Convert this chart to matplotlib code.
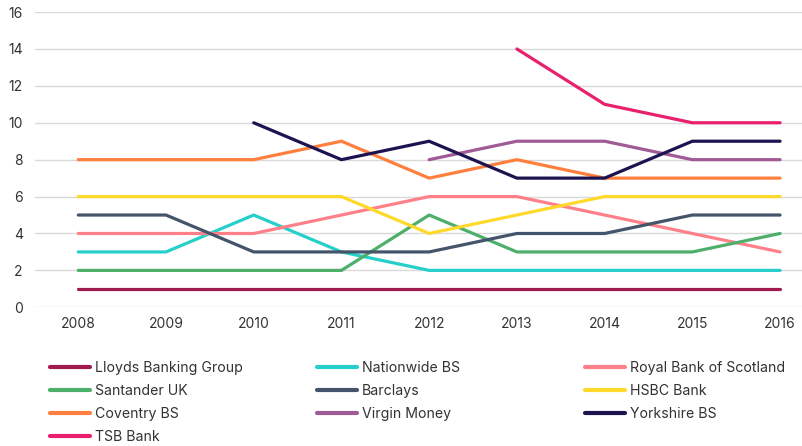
import numpy as np
import matplotlib.pyplot as plt
from matplotlib.lines import Line2D

plt.rcParams['font.family'] = ['Inter', 'DejaVu Sans']

years = [2008, 2009, 2010, 2011, 2012, 2013, 2014, 2015, 2016]
nan = np.nan

banks = ["Lloyds Banking Group", "Nationwide BS", "Royal Bank of Scotland",
         "Santander UK", "Barclays", "HSBC Bank",
         "Coventry BS", "Virgin Money", "Yorkshire BS", "TSB Bank"]

lloyds = [1, 1, 1, 1, 1, 1, 1, 1, 1]
nationwide = [3, 3, 5, 3, 2, 2, 2, 2, 2]
rbs = [4, 4, 4, 5, 6, 6, 5, 4, 3]
santander = [2, 2, 2, 2, 5, 3, 3, 3, 4]
barclays = [5, 5, 3, 3, 3, 4, 4, 5, 5]
hsbc = [6, 6, 6, 6, 4, 5, 6, 6, 6]
coventry = [8, 8, 8, 9, 7, 8, 7, 7, 7]
virgin = [nan, nan, nan, nan, 8, 9, 9, 8, 8]
yorkshire = [nan, nan, 10, 8, 9, 7, 7, 9, 9]
tsb = [nan, nan, nan, nan, nan, 14, 11, 10, 10]

series = [lloyds, nationwide, rbs, santander, barclays, hsbc,
          coventry, virgin, yorkshire, tsb]
colors = ["#a01a4f", "#26cfc9", "#ff8089", "#4daf6a", "#44546a", "#ffd92a",
          "#ff7f3f", "#a05a96", "#1c1450", "#e8206e"]

fig = plt.figure(figsize=(8.02, 4.46), dpi=100)
ax = fig.add_axes([0.044, 0.311, 0.956, 0.662])

for vals, c in zip(series, colors):
    ax.plot(years, vals, color=c, lw=2.3, solid_capstyle="round",
            solid_joinstyle="round")

ax.set_ylim(0, 16)
ax.set_yticks(range(0, 17, 2))
ax.set_xlim(2007.51, 2016.25)
ax.set_xticks(years)
ax.grid(axis="y", color="#d9d9d9", lw=1)
ax.set_axisbelow(True)
for s in ax.spines.values():
    s.set_visible(False)
ax.tick_params(length=0, labelsize=10, labelcolor="#333333")
ax.tick_params(axis="x", pad=7)
ax.tick_params(axis="y", pad=9)

# legend laid out row by row: one legend per column
cols = [[0, 3, 6, 9], [1, 4, 7], [2, 5, 8]]
xs = [0.0623, 0.395, 0.729]
for idx, x in zip(cols, xs):
    handles = [Line2D([], [], color=colors[i], lw=3, solid_capstyle="round")
               for i in idx]
    fig.legend(handles, [banks[i] for i in idx], loc="upper left",
               bbox_to_anchor=(x, 0.191), frameon=False,
               prop={"size": 10.2},
               handlelength=2.82, handletextpad=0.36, labelspacing=0.64,
               borderaxespad=0, borderpad=0, labelcolor="#333333")

fig.savefig("out.png", dpi=100)
